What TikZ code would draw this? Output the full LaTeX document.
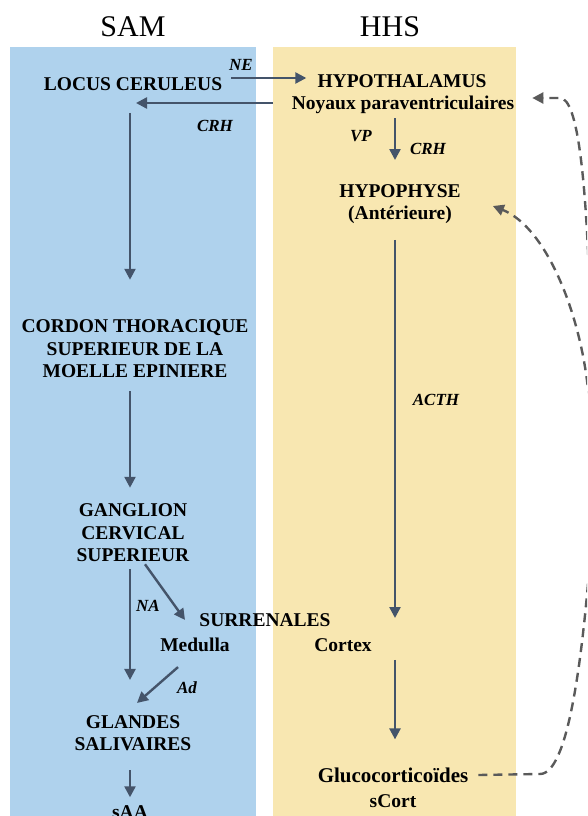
\documentclass[tikz,border=0pt]{standalone}
\usepackage{fontspec}
\setmainfont{Liberation Serif}
\usetikzlibrary{arrows.meta}
\definecolor{samblue}{RGB}{175,210,237}
\definecolor{hhsyellow}{RGB}{248,231,177}
\definecolor{arrowgray}{RGB}{68,84,106}
\definecolor{dashgray}{RGB}{90,90,90}
\begin{document}
\begin{tikzpicture}[x=1pt,y=1pt,
  box/.style={font=\fontsize{19.5}{22.5}\selectfont\bfseries, align=center, inner sep=2pt},
  hormone/.style={font=\fontsize{17}{20}\selectfont\bfseries\itshape, inner sep=1pt},
  title/.style={font=\fontsize{30}{34}\selectfont},
  arr/.style={draw=arrowgray, line width=2.4pt, -{Triangle[length=11pt,width=11pt]}},
  fback/.style={draw=dashgray, line width=2.4pt, dash pattern=on 9pt off 6pt, -{Triangle[length=11pt,width=11pt]}}]
  \useasboundingbox (0,0) rectangle (587,-816);
  \clip (0,0) rectangle (587,-816);
  % two columns
  \fill[samblue] (10,-47) rectangle (256,-816);
  \fill[hhsyellow] (273,-47) rectangle (516,-816);
  \node[title] (sam) at (133,-27) {SAM};
  \node[title] (hhs) at (390,-27) {HHS};
  % SAM side
  \node[box] (lc) at (133,-84) {LOCUS CERULEUS};
  \node[box] (cordon) at (135,-349) {CORDON THORACIQUE\\SUPERIEUR DE LA\\MOELLE EPINIERE};
  \node[box] (ganglion) at (133,-533) {GANGLION\\CERVICAL\\SUPERIEUR};
  \node[box] (surr) at (265,-620) {SURRENALES};
  \node[box] (medulla) at (195,-645) {Medulla};
  \node[box] (glandes) at (133,-733) {GLANDES\\SALIVAIRES};
  \node[box] (saa) at (130,-812) {sAA};
  % HHS side
  \node[box] (hypo) at (402,-81) {HYPOTHALAMUS};
  \node[box] (pvn) at (403,-105) {Noyaux paraventriculaires};
  \node[box] (hypoph) at (400,-204) {HYPOPHYSE\\(Antérieure)};
  \node[box] (cortex) at (343,-645) {Cortex};
  \node[box, font=\fontsize{21}{22.5}\selectfont\bfseries] (gluco) at (393,-775) {Glucocorticoïdes};
  \node[box] (scort) at (393,-801) {sCort};
  % hormones
  \node[hormone] (ne) at (241,-65) {NE};
  \node[hormone] (crha) at (215,-126) {CRH};
  \node[hormone] (vp) at (361,-136) {VP};
  \node[hormone] (crhb) at (428,-149) {CRH};
  \node[hormone] (acth) at (436,-400) {ACTH};
  \node[hormone] (na) at (148,-606) {NA};
  \node[hormone] (ad) at (187,-688) {Ad};
  % arrows
  \draw[arr] ([xshift=7,yshift=6]lc.east) -- ([xshift=-9,yshift=3]hypo.west);
  \draw[arr] ([xshift=-17,yshift=2]pvn.west) -- ([xshift=3,yshift=2]pvn.west -| lc.center);
  \draw[arr, shorten <=20pt, shorten >=38pt] ([xshift=-3]lc.south) -- ([xshift=-3]lc.south |- cordon.north);
  \draw[arr, shorten <=11pt, shorten >=14pt] ([xshift=-5]cordon.south) -- ([xshift=-5]cordon.south |- ganglion.north);
  \draw[arr, shorten <=5pt, shorten >=33pt] ([xshift=-3]ganglion.south) -- ([xshift=-3]ganglion.south |- glandes.north);
  \draw[arr] ([xshift=12]ganglion.south) -- ([xshift=-10,yshift=16]medulla.north);
  \draw[arr] ([xshift=-17,yshift=-13]medulla.south) -- ([xshift=4,yshift=10]glandes.north);
  \draw[arr, shorten <=17pt, shorten >=6pt] ([xshift=-3]glandes.south) -- ([xshift=-3]glandes.south |- saa.north);
  \draw[arr, shorten <=2pt, shorten >=22pt] ([xshift=-8]pvn.south) -- ([xshift=-8]pvn.south |- hypoph.north);
  \draw[arr, shorten <=14pt, shorten >=2pt] ([xshift=-5]hypoph.south) -- ([xshift=-5]hypoph.south |- surr.center);
  \draw[arr, shorten <=6pt, shorten >=26pt] ([xshift=-5]hypoph.south |- cortex.south) -- ([xshift=-5]hypoph.south |- gluco.north);
  % feedback
  \coordinate (out) at (590,-560);
  \coordinate (ina) at (590,-300);
  \coordinate (inb) at (589,-400);
  \draw[fback, -] ([xshift=8]gluco.east) -- (540,-774) .. controls (568,-774) and (582,-660) .. (out);
  \draw[fback] (ina) .. controls (586,-180) and (578,-98) .. (560,-98) -- ([xshift=16,yshift=7]pvn.east);
  \draw[fback] (inb) .. controls (583,-320) and (548,-228) .. ([xshift=30,yshift=-2]hypoph.east);
\end{tikzpicture}
\end{document}
